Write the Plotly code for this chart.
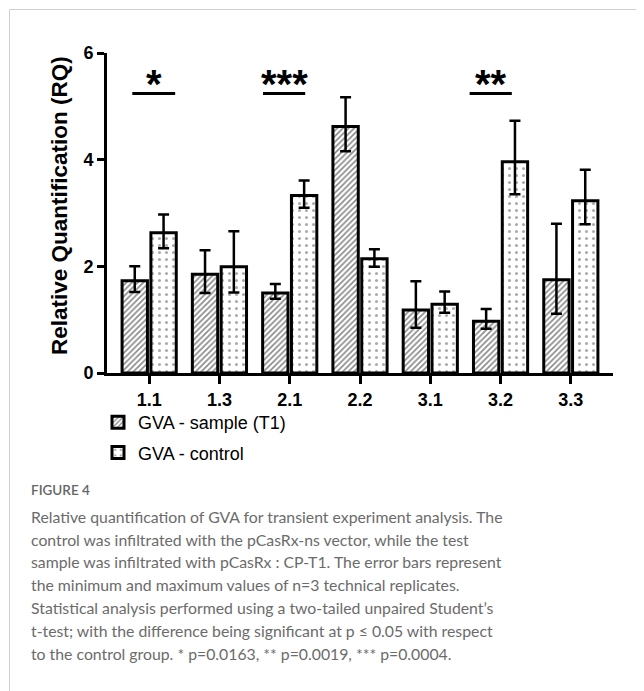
import plotly.graph_objects as go

categories = ["1.1", "1.3", "2.1", "2.2", "3.1", "3.2", "3.3"]
sample_vals = [1.73, 1.85, 1.50, 4.62, 1.18, 0.97, 1.75]
sample_max = [2.00, 2.30, 1.67, 5.17, 1.72, 1.20, 2.80]
sample_min = [1.52, 1.50, 1.39, 4.16, 0.85, 0.83, 1.11]
control_vals = [2.63, 1.99, 3.33, 2.14, 1.29, 3.96, 3.23]
control_max = [2.97, 2.66, 3.61, 2.32, 1.53, 4.73, 3.81]
control_min = [2.34, 1.51, 3.10, 1.99, 1.13, 3.35, 2.79]
sig_labels = ["*", "***", "**"]
sig_cats = [0, 2, 5]
sig_y = 5.24
y_title = "Relative Quantification (RQ)"

caption_title = "FIGURE 4"
caption_lines = [
    "Relative quantification of GVA for transient experiment analysis. The",
    "control was infiltrated with the pCasRx-ns vector, while the test",
    "sample was infiltrated with pCasRx : CP-T1. The error bars represent",
    "the minimum and maximum values of n=3 technical replicates.",
    "Statistical analysis performed using a two-tailed unpaired Student\u2019s",
    "t-test; with the difference being significant at p \u2264 0.05 with respect",
    "to the control group. * p=0.0163, ** p=0.0019, *** p=0.0004.",
]

OFF = 8  # page body margin
W, H = 644 - OFF, 691 - OFF
L, R, T, B = 99, 31, 45, 318
PW, PH = W - L - R, H - T - B


def pxx(p):
    return (p - OFF - L) / PW


def pxy(p):
    return (H - B - (p - OFF)) / PH


FONT = "Arial, Liberation Sans, sans-serif"
xs = list(range(len(categories)))

fig = go.Figure()
fig.add_trace(go.Bar(
    x=xs, y=sample_vals, name="GVA - sample (T1)", legendgroup="a",
    marker=dict(color="white", line=dict(color="black", width=3),
                pattern=dict(shape="/", fgcolor="#111", bgcolor="white", size=4, solidity=0.4)),
    error_y=dict(type="data", symmetric=False,
                 array=[a - v for a, v in zip(sample_max, sample_vals)],
                 arrayminus=[v - b for b, v in zip(sample_min, sample_vals)],
                 color="black", thickness=2.5, width=5.5),
))
fig.add_trace(go.Bar(
    x=xs, y=control_vals, name="GVA - control", legendgroup="b",
    marker=dict(color="white", line=dict(color="black", width=3),
                pattern=dict(shape=".", fgcolor="#555", bgcolor="white", size=7, solidity=0.15)),
    error_y=dict(type="data", symmetric=False,
                 array=[a - v for a, v in zip(control_max, control_vals)],
                 arrayminus=[v - b for b, v in zip(control_min, control_vals)],
                 color="black", thickness=2.5, width=5.5),
))

shapes = []
annotations = []
line_offsets = [(-0.24, 0.37), (-0.38, 0.22), (-0.44, 0.16)]
for lab, c, (a, b) in zip(sig_labels, sig_cats, line_offsets):
    shapes.append(dict(type="line", xref="x", yref="y", x0=c + a, x1=c + b,
                       y0=sig_y, y1=sig_y, line=dict(color="black", width=3)))
    annotations.append(dict(xref="x", yref="y", x=c + (a + b) / 2, y=sig_y - 0.27,
                            text="<b>" + lab + "</b>", showarrow=False, yanchor="bottom",
                            font=dict(family=FONT, size=40, color="black")))

annotations.append(dict(xref="paper", yref="paper", x=pxx(59), y=pxy(206), textangle=-90,
                        xanchor="center", yanchor="middle", showarrow=False,
                        text="<b>" + y_title + "</b>",
                        font=dict(family=FONT, size=22.5, color="black")))

# frame lines
shapes.append(dict(type="line", xref="paper", yref="paper", x0=pxx(9.5), x1=pxx(700),
                   y0=pxy(9.5), y1=pxy(9.5), line=dict(color="#cfcfcf", width=1)))
shapes.append(dict(type="line", xref="paper", yref="paper", x0=pxx(9.5), x1=pxx(9.5),
                   y0=pxy(9.5), y1=pxy(760), line=dict(color="#cfcfcf", width=1)))

annotations.append(dict(xref="paper", yref="paper", x=pxx(29), y=pxy(490), xanchor="left",
                        yanchor="middle", showarrow=False, text=caption_title,
                        font=dict(family="Lato", size=13.5, color="#666", weight=600)))
line_ys = [516.7, 539, 561.7, 584, 607.3, 630, 653.3]
for txt, yy in zip(caption_lines, line_ys):
    annotations.append(dict(xref="paper", yref="paper", x=pxx(28.5), y=pxy(yy), xanchor="left",
                            yanchor="middle", showarrow=False, text=txt,
                            font=dict(family="Lato", size=15.8, color="#6b6b6b")))

fig.update_layout(
    width=W, height=H,
    margin=dict(l=L, r=R, t=T, b=B),
    paper_bgcolor="white", plot_bgcolor="white",
    barmode="group", bargap=0.18, bargroupgap=0.12,
    shapes=shapes, annotations=annotations,
    legend=dict(x=pxx(98), y=pxy(404), xanchor="left", yanchor="top",
                font=dict(family=FONT, size=18, color="black"),
                bgcolor="rgba(0,0,0,0)", tracegroupgap=4),
    xaxis=dict(range=[-0.6, 6.6], tickmode="array", tickvals=xs,
               ticktext=["<b>" + c + "</b>" for c in categories],
               showgrid=False, zeroline=False, showline=True, linecolor="black", linewidth=3,
               ticks="outside", ticklen=8, tickwidth=3, tickcolor="black",
               tickfont=dict(family=FONT, size=18, color="black")),
    yaxis=dict(range=[0, 6], tickvals=[0, 2, 4, 6], ticktext=["<b>0</b>", "<b>2</b>", "<b>4</b>", "<b>6</b>"],
               showgrid=False, zeroline=False, showline=True, linecolor="black", linewidth=3,
               ticks="outside", ticklen=7, tickwidth=3, tickcolor="black",
               tickfont=dict(family=FONT, size=18, color="black")),
)

fig.write_html("out.html")
